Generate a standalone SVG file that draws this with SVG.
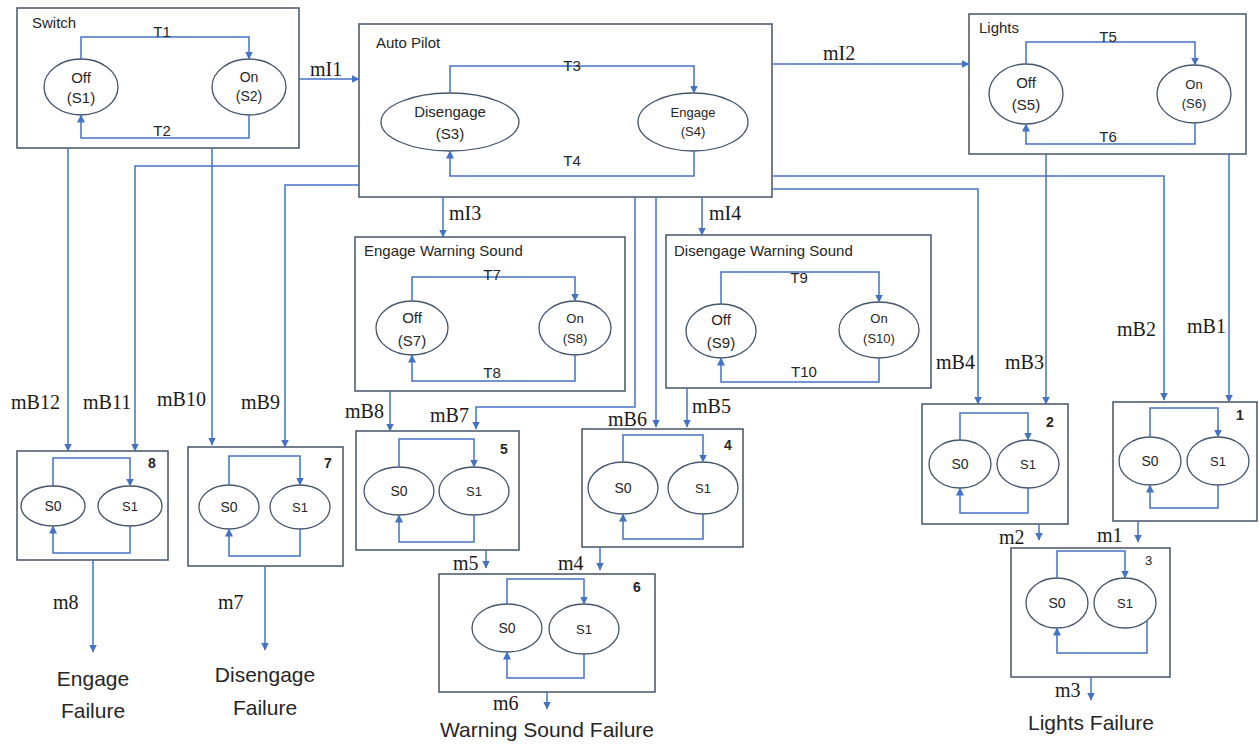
<svg xmlns="http://www.w3.org/2000/svg" width="1259" height="748" viewBox="0 0 1259 748">
<style>
.box{fill:#fff;stroke:#44546A;stroke-width:1.5}
.st{fill:#fff;stroke:#44546A;stroke-width:1.3}
.c{fill:none;stroke:#4472C4;stroke-width:1.5;marker-end:url(#ah)}
.t{font-family:"Liberation Sans",Arial,sans-serif;fill:#262626}
.title{font-size:15px}
.s15{font-size:15px;text-anchor:middle}
.s13{font-size:13px;text-anchor:middle}
.s14{font-size:14px;text-anchor:middle}
.num{font-size:14px;font-weight:bold}
.m{font-family:"Liberation Serif","Times New Roman",serif;font-size:20px;fill:#1a1a1a}
.fail{font-size:21px;text-anchor:middle}
</style>
<defs>
<marker id="ah" markerWidth="9" markerHeight="9" refX="7.5" refY="4.5" orient="auto" markerUnits="userSpaceOnUse">
<path d="M0,0.5 L8,4.5 L0,8.5 z" fill="#4472C4"/>
</marker>
</defs>
<rect width="1259" height="748" fill="#fff"/>

<g id="switch">
<rect class="box" x="17" y="8" width="282" height="140"/>
<text class="t title" x="32" y="28">Switch</text>
<ellipse class="st" cx="81" cy="87" rx="37" ry="28"/>
<text class="t s15" x="81" y="83">Off</text>
<text class="t s15" x="81" y="103">(S1)</text>
<ellipse class="st" cx="249" cy="87" rx="37" ry="28"/>
<text class="t s14" x="249" y="82">On</text>
<text class="t s14" x="249" y="101">(S2)</text>
</g>

<g id="autopilot">
<rect class="box" x="359" y="24" width="413" height="173"/>
<text class="t title" x="376" y="48">Auto Pilot</text>
<ellipse class="st" cx="450" cy="122" rx="69" ry="29"/>
<text class="t s15" x="450" y="117">Disengage</text>
<text class="t s15" x="450" y="139">(S3)</text>
<ellipse class="st" cx="693" cy="122" rx="55" ry="29"/>
<text class="t s13" x="693" y="117">Engage</text>
<text class="t s13" x="693" y="136">(S4)</text>
</g>

<g id="lights">
<rect class="box" x="969" y="14" width="277" height="140"/>
<text class="t title" x="979" y="33">Lights</text>
<ellipse class="st" cx="1026" cy="94" rx="37" ry="30"/>
<text class="t s15" x="1026" y="88">Off</text>
<text class="t s15" x="1026" y="110">(S5)</text>
<ellipse class="st" cx="1194" cy="94" rx="37" ry="29"/>
<text class="t s13" x="1194" y="89">On</text>
<text class="t s13" x="1194" y="108">(S6)</text>
</g>

<g id="engage-warning-sound">
<rect class="box" x="355" y="237" width="270" height="154"/>
<text class="t title" x="364" y="256">Engage Warning Sound</text>
<ellipse class="st" cx="412" cy="328" rx="36" ry="27"/>
<text class="t s15" x="412" y="323">Off</text>
<text class="t s15" x="412" y="346">(S7)</text>
<ellipse class="st" cx="575" cy="328" rx="36" ry="27"/>
<text class="t s13" x="575" y="323">On</text>
<text class="t s13" x="575" y="343">(S8)</text>
</g>

<g id="disengage-warning-sound">
<rect class="box" x="666" y="235" width="265" height="153"/>
<text class="t title" x="674" y="256">Disengage Warning Sound</text>
<ellipse class="st" cx="721" cy="331" rx="35" ry="27"/>
<text class="t s15" x="721" y="325">Off</text>
<text class="t s15" x="721" y="348">(S9)</text>
<ellipse class="st" cx="879" cy="330" rx="40" ry="28"/>
<text class="t s13" x="879" y="323">On</text>
<text class="t s13" x="879" y="343">(S10)</text>
</g>

<g id="b8">
<rect class="box" x="17" y="451" width="151" height="109"/>
<text class="t num" x="148" y="468">8</text>
<ellipse class="st" cx="53" cy="506" rx="32" ry="20"/>
<text class="t s14" x="53" y="511">S0</text>
<ellipse class="st" cx="130" cy="506" rx="32" ry="20"/>
<text class="t s13" x="130" y="511">S1</text>
</g>

<g id="b7">
<rect class="box" x="188" y="447" width="155" height="119"/>
<text class="t num" x="324" y="468">7</text>
<ellipse class="st" cx="229" cy="507" rx="30" ry="22"/>
<text class="t s14" x="229" y="512">S0</text>
<ellipse class="st" cx="300" cy="507" rx="30" ry="22"/>
<text class="t s13" x="300" y="512">S1</text>
</g>

<g id="b5">
<rect class="box" x="356" y="431" width="163" height="119"/>
<text class="t num" x="500" y="454">5</text>
<ellipse class="st" cx="399" cy="491" rx="35" ry="24"/>
<text class="t s14" x="399" y="496">S0</text>
<ellipse class="st" cx="474" cy="491" rx="35" ry="24"/>
<text class="t s13" x="474" y="496">S1</text>
</g>

<g id="b4">
<rect class="box" x="582" y="429" width="161" height="118"/>
<text class="t num" x="724" y="450">4</text>
<ellipse class="st" cx="623" cy="488" rx="35" ry="26"/>
<text class="t s14" x="623" y="493">S0</text>
<ellipse class="st" cx="703" cy="488" rx="35" ry="26"/>
<text class="t s13" x="703" y="493">S1</text>
</g>

<g id="b6">
<rect class="box" x="439" y="574" width="216" height="118"/>
<text class="t num" x="633" y="592">6</text>
<ellipse class="st" cx="507" cy="628" rx="35" ry="24"/>
<text class="t s14" x="507" y="633">S0</text>
<ellipse class="st" cx="584" cy="629" rx="35" ry="25"/>
<text class="t s13" x="584" y="634">S1</text>
</g>

<g id="b2">
<rect class="box" x="922" y="404" width="146" height="120"/>
<text class="t num" x="1046" y="427">2</text>
<ellipse class="st" cx="960" cy="464" rx="31" ry="24"/>
<text class="t s14" x="960" y="469">S0</text>
<ellipse class="st" cx="1028" cy="464" rx="31" ry="24"/>
<text class="t s13" x="1028" y="469">S1</text>
</g>

<g id="b1">
<rect class="box" x="1113" y="402" width="144" height="119"/>
<text class="t num" x="1236" y="420">1</text>
<ellipse class="st" cx="1150" cy="461" rx="31" ry="24"/>
<text class="t s14" x="1150" y="466">S0</text>
<ellipse class="st" cx="1218" cy="461" rx="31" ry="24"/>
<text class="t s13" x="1218" y="466">S1</text>
</g>

<g id="b3">
<rect class="box" x="1011" y="548" width="159" height="129"/>
<text class="t" x="1145" y="565" font-size="13">3</text>
<ellipse class="st" cx="1057" cy="603" rx="31" ry="25"/>
<text class="t s14" x="1057" y="608">S0</text>
<ellipse class="st" cx="1125" cy="603" rx="31" ry="25"/>
<text class="t s13" x="1125" y="608">S1</text>
</g>

<g id="outputs">
<text class="t fail" x="93" y="686">Engage</text>
<text class="t fail" x="93" y="718">Failure</text>
<text class="t fail" x="265" y="682">Disengage</text>
<text class="t fail" x="265" y="715">Failure</text>
<text class="t fail" x="547" y="737">Warning Sound Failure</text>
<text class="t fail" x="1091" y="730">Lights Failure</text>
</g>

<g id="connectors">
<path class="c" d="M81,59 V37 H249 V59"/>
<path class="c" d="M249,115 V138 H81 V115"/>
<path class="c" d="M299,79 H359"/>
<path class="c" d="M450,93 V66 H694 V93"/>
<path class="c" d="M694,151 V176 H450 V151"/>
<path class="c" d="M772,64 H969"/>
<path class="c" d="M1026,64 V42 H1195 V65"/>
<path class="c" d="M1195,123 V144 H1026 V124"/>
<path class="c" d="M443,197 V237"/>
<path class="c" d="M702,197 V235"/>
<path class="c" d="M412,301 V277 H575 V301"/>
<path class="c" d="M575,355 V381 H412 V355"/>
<path class="c" d="M721,304 V272 H879 V302"/>
<path class="c" d="M879,358 V382 H721 V358"/>
<path class="c" d="M68,148 V451"/>
<path class="c" d="M359,166 H135 V451"/>
<path class="c" d="M212,148 V445"/>
<path class="c" d="M359,185 H285 V447"/>
<path class="c" d="M390,391 V431"/>
<path class="c" d="M635,197 V407 H476 V429"/>
<path class="c" d="M656,197 V427"/>
<path class="c" d="M687,388 V427"/>
<path class="c" d="M772,189 H978 V404"/>
<path class="c" d="M1046,154 V404"/>
<path class="c" d="M772,176 H1164 V400"/>
<path class="c" d="M1229,154 V402"/>
<path class="c" d="M1039,524 V540"/>
<path class="c" d="M1138,521 V542"/>
<path class="c" d="M1091,677 V700"/>
<path class="c" d="M486,550 V568"/>
<path class="c" d="M600,547 V570"/>
<path class="c" d="M547,692 V709"/>
<path class="c" d="M93,560 V652"/>
<path class="c" d="M265,566 V650"/>
<path class="c" d="M53,486 V458 H130 V486"/>
<path class="c" d="M130,526 V553 H53 V526"/>
<path class="c" d="M229,485 V456 H300 V485"/>
<path class="c" d="M300,529 V556 H229 V529"/>
<path class="c" d="M399,467 V439 H474 V467"/>
<path class="c" d="M474,515 V542 H399 V515"/>
<path class="c" d="M623,462 V435 H703 V462"/>
<path class="c" d="M703,514 V539 H623 V514"/>
<path class="c" d="M507,604 V579 H584 V604"/>
<path class="c" d="M584,654 V678 H507 V652"/>
<path class="c" d="M960,440 V413 H1028 V440"/>
<path class="c" d="M1028,488 V513 H960 V488"/>
<path class="c" d="M1150,437 V408 H1218 V437"/>
<path class="c" d="M1218,485 V508 H1150 V485"/>
<path class="c" d="M1057,578 V551 H1125 V578"/>
<path class="c" d="M1147,621 V653 H1057 V628"/>
</g>

<g id="labels">
<text class="t s15" x="162" y="37">T1</text>
<text class="t s15" x="162" y="136">T2</text>
<text class="t s15" x="572" y="71">T3</text>
<text class="t s15" x="572" y="166">T4</text>
<text class="t s15" x="1108" y="42">T5</text>
<text class="t s15" x="1108" y="142">T6</text>
<text class="t s15" x="492" y="280">T7</text>
<text class="t s15" x="492" y="378">T8</text>
<text class="t s15" x="799" y="283">T9</text>
<text class="t s15" x="804" y="377">T10</text>
<text class="m" x="310" y="76">mI1</text>
<text class="m" x="823" y="60">mI2</text>
<text class="m" x="449" y="220">mI3</text>
<text class="m" x="709" y="220">mI4</text>
<text class="m" x="11" y="409">mB12</text>
<text class="m" x="83" y="409">mB11</text>
<text class="m" x="157" y="406">mB10</text>
<text class="m" x="241" y="409">mB9</text>
<text class="m" x="345" y="418">mB8</text>
<text class="m" x="430" y="422">mB7</text>
<text class="m" x="608" y="426">mB6</text>
<text class="m" x="692" y="413">mB5</text>
<text class="m" x="936" y="369">mB4</text>
<text class="m" x="1005" y="369">mB3</text>
<text class="m" x="1117" y="336">mB2</text>
<text class="m" x="1187" y="333">mB1</text>
<text class="m" x="53" y="609">m8</text>
<text class="m" x="218" y="609">m7</text>
<text class="m" x="453" y="570">m5</text>
<text class="m" x="558" y="570">m4</text>
<text class="m" x="493" y="710">m6</text>
<text class="m" x="999" y="544">m2</text>
<text class="m" x="1097" y="542">m1</text>
<text class="m" x="1055" y="697">m3</text>
</g>
</svg>
